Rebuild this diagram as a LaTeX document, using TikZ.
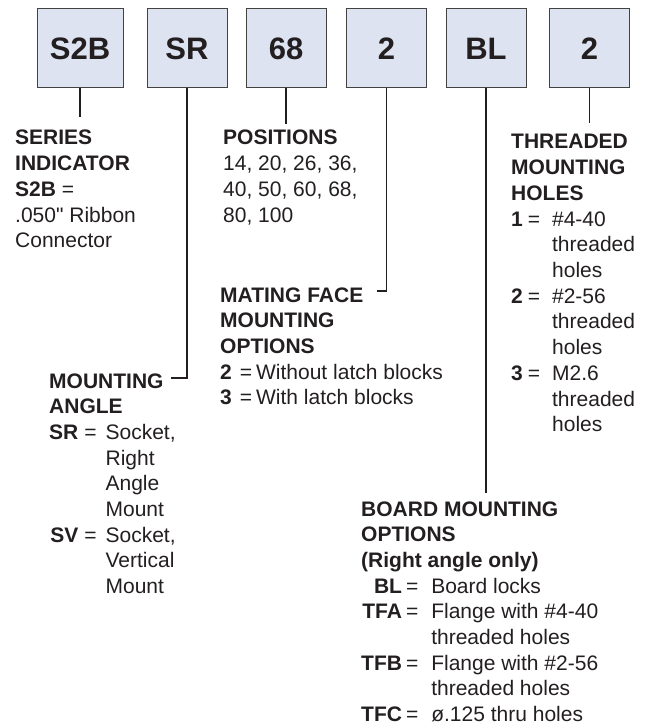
\documentclass[tikz,border=0pt]{standalone}
\usepackage{fontspec}
\setmainfont{Liberation Sans}
\usepackage{array}
\definecolor{boxfill}{RGB}{221,227,241}
\definecolor{ink}{RGB}{35,31,32}
\newcommand{\headrow}[1]{\multicolumn{3}{@{}l@{}}{\textbf{#1}}}

\begin{document}
\begin{tikzpicture}[x=1pt,y=-1pt,
  code/.style={draw=ink!85, fill=boxfill, line width=1pt, minimum width=80pt,
    minimum height=79pt, inner sep=0pt, text=ink,
    font=\fontsize{31}{31}\selectfont\bfseries},
  info/.style={anchor=base west, inner sep=0pt, text=ink,
    font=\fontsize{21}{25.7}\selectfont},
  lead/.style={ink, line width=1.3pt}]
\useasboundingbox (0,0) rectangle (652,727);
% part number boxes
\node[code, minimum width=86pt] (boxseries) at (80,48.5) {S2B};
\node[code] (boxangle) at (187,48.5) {SR};
\node[code] (boxpos) at (286,48.5) {68};
\node[code] (boxmating) at (386.5,48.5) {2};
\node[code] (boxboard) at (486,48.5) {BL};
\node[code] (boxholes) at (589.5,48.5) {2};
% descriptions
\node[info] (series) at (15,145) {\begin{tabular}[t]{@{}l@{}}
  \textbf{SERIES}\\ \textbf{INDICATOR}\\ \textbf{S2B} =\\ .050\textquotedbl{} Ribbon\\ Connector
  \end{tabular}};
\node[info] (positions) at (223,145) {\begin{tabular}[t]{@{}l@{}}
  \textbf{POSITIONS}\\ 14, 20, 26, 36,\\ 40, 50, 60, 68,\\ 80, 100
  \end{tabular}};
\node[info] (threaded) at (511,149) {\begin{tabular}[t]{@{}r@{\hspace{5pt}}c@{\hspace{12pt}}l@{}}
  \headrow{THREADED}\\ \headrow{MOUNTING}\\ \headrow{HOLES}\\
  \textbf{1} & = & \#4-40\\ & & threaded\\ & & holes\\
  \textbf{2} & = & \#2-56\\ & & threaded\\ & & holes\\
  \textbf{3} & = & M2.6\\ & & threaded\\ & & holes
  \end{tabular}};
\node[info] (mating) at (220,302) {\begin{tabular}[t]{@{}r@{\hspace{8pt}}c@{\hspace{4pt}}l@{}}
  \headrow{MATING FACE}\\ \headrow{MOUNTING}\\ \headrow{OPTIONS}\\
  \textbf{2} & = & Without latch blocks\\
  \textbf{3} & = & With latch blocks
  \end{tabular}};
\node[info] (angle) at (49,388) {\begin{tabular}[t]{@{}r@{\hspace{6pt}}c@{\hspace{9pt}}l@{}}
  \headrow{MOUNTING}\\ \headrow{ANGLE}\\
  \textbf{SR} & = & Socket,\\ & & Right\\ & & Angle\\ & & Mount\\
  \textbf{SV} & = & Socket,\\ & & Vertical\\ & & Mount
  \end{tabular}};
\node[info] (board) at (361,516) {\begin{tabular}[t]{@{}r@{\hspace{4pt}}c@{\hspace{13pt}}l@{}}
  \headrow{BOARD MOUNTING}\\ \headrow{OPTIONS}\\ \headrow{(Right angle only)}\\
  \textbf{BL} & = & Board locks\\
  \textbf{TFA} & = & Flange with \#4-40\\ & & threaded holes\\
  \textbf{TFB} & = & Flange with \#2-56\\ & & threaded holes\\
  \textbf{TFC} & = & ø.125 thru holes
  \end{tabular}};
% leads
\coordinate (angletick) at (171,378);
\coordinate (matingtick) at (377,291);
\draw[lead, shorten >=10pt] (boxseries.south) -- (boxseries.south |- series.north);
\draw[lead] (boxangle.south) |- (angletick);
\draw[lead, shorten >=3pt] (boxpos.south) -- (boxpos.south |- positions.north);
\draw[lead] (boxmating.south) |- (matingtick);
\draw[lead, shorten >=5pt] (boxboard.south) -- (boxboard.south |- board.north);
\draw[lead, shorten >=8pt] (boxholes.south) -- (boxholes.south |- threaded.north);
\end{tikzpicture}
\end{document}
